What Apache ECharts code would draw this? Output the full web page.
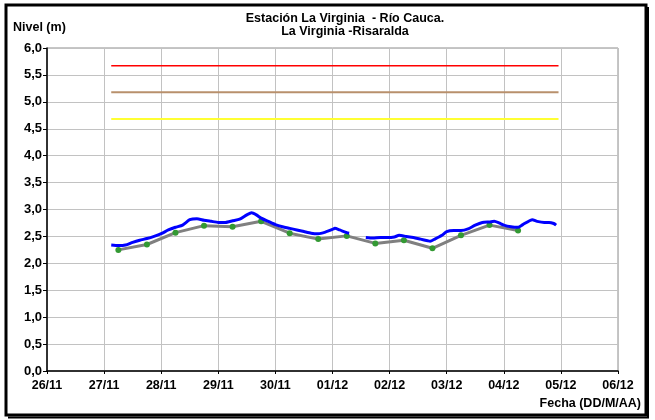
<!DOCTYPE html>
<html>
<head>
<meta charset="utf-8">
<script src="https://cdn.jsdelivr.net/npm/echarts@6/dist/echarts.min.js"></script>
<style>
  html, body { margin: 0; padding: 0; background: #fff; }
  #nivel-chart { width: 655px; height: 420px; }
</style>
</head>
<body>
<div id="nivel-chart"></div>
<script>
  // hours counted from 26/11 00:00
  const dayLabels = ['26/11', '27/11', '28/11', '29/11', '30/11', '01/12', '02/12', '03/12', '04/12', '05/12', '06/12']
  const levelTicks = ['0,0', '0,5', '1,0', '1,5', '2,0', '2,5', '3,0', '3,5', '4,0', '4,5', '5,0', '5,5', '6,0']

  // nivel medido (azul), null = sin dato
  const blueHours = [27, 30, 33, 36, 39, 42, 45, 48, 51, 54, 57, 60, 63, 66, 69, 72, 75, 78, 81, 84, 86, 88, 90, 93, 96, 99,
    102, 105, 108, 111, 114, 117, 120, 121, 123, 126, 127, 130, 134, 137, 140, 143, 146, 148, 151, 154, 157, 160, 161, 163,
    166, 168, 171, 174, 177, 180, 183, 186, 188, 190, 192, 195, 198, 200, 204, 206, 209, 211, 213, 214]
  const blueLevels = [2.34, 2.33, 2.34, 2.39, 2.43, 2.46, 2.50, 2.55, 2.62, 2.67, 2.71, 2.81, 2.83, 2.80, 2.78, 2.76, 2.76, 2.79, 2.82, 2.90, 2.94, 2.90, 2.84, 2.78, 2.72, 2.68,
    2.65, 2.62, 2.59, 2.56, 2.55, 2.58, 2.63, 2.65, 2.62, 2.57, 2.56, null, 2.48, 2.47, 2.48, 2.48, 2.49, 2.52, 2.50, 2.48, 2.45, 2.42, 2.41, 2.45,
    2.52, 2.59, 2.61, 2.61, 2.64, 2.71, 2.76, 2.77, 2.78, 2.75, 2.71, 2.68, 2.67, 2.72, 2.81, 2.78, 2.76, 2.76, 2.74, 2.71]

  // lecturas de mira cada 12 h (gris con puntos verdes)
  const readHours = [30, 42, 54, 66, 78, 90, 102, 114, 126, 138, 150, 162, 174, 186, 198]
  const readLevels = [2.25, 2.35, 2.57, 2.70, 2.68, 2.78, 2.56, 2.45, 2.51, 2.37, 2.43, 2.28, 2.52, 2.71, 2.61]

  // umbrales
  const thresholdHours = [27, 215]
  const redLevel = 5.67
  const brownLevel = 5.18
  const yellowLevel = 4.68

  const pairs = (xs, ys) => xs.map((x, i) => [x, ys[i]])
  const flat = (v) => thresholdHours.map(h => [h, v])

  const font = 'Liberation Sans, Arial, sans-serif'

  const thresholdSeries = (name, value, color, width) => ({
    name: name,
    type: 'line',
    data: flat(value),
    symbol: 'none',
    lineStyle: { color: color, width: width },
    z: 2
  })

  const option = {
    animation: false,
    backgroundColor: '#fff',
    grid: {
      left: 47,
      top: 48,
      right: 37,
      bottom: 49,
      show: true,
      borderColor: '#8c8c8c',
      borderWidth: 1
    },
    graphic: [
      {
        type: 'rect',
        shape: { x: 6, y: 5, width: 640, height: 410 },
        style: { fill: null, stroke: '#000', lineWidth: 3 },
        silent: true
      },
      {
        type: 'line',
        shape: { x1: 648, y1: 7, x2: 648, y2: 418 },
        style: { stroke: '#000', lineWidth: 2 },
        silent: true
      },
      {
        type: 'line',
        shape: { x1: 8, y1: 417.5, x2: 649, y2: 417.5 },
        style: { stroke: '#000', lineWidth: 2 },
        silent: true
      },
      {
        type: 'text',
        left: 13,
        top: 21,
        style: { text: 'Nivel (m)', font: 'bold 12.5px ' + font, fill: '#000' }
      },
      {
        type: 'text',
        right: 14,
        top: 397,
        style: { text: 'Fecha (DD/M/AA)', font: 'bold 12.5px ' + font, fill: '#000' }
      },
      {
        type: 'text',
        x: 345,
        y: 12,
        style: {
          text: 'Estación La Virginia  - Río Cauca.\nLa Virginia -Risaralda',
          font: 'bold 12.5px ' + font,
          fill: '#000',
          align: 'center',
          lineHeight: 13
        }
      }
    ],
    xAxis: {
      type: 'value',
      min: 0,
      max: 240,
      interval: 24,
      axisLine: { onZero: false, lineStyle: { color: '#000', width: 1.5 } },
      axisTick: { show: true, inside: false, length: 3, lineStyle: { color: '#000' } },
      axisLabel: {
        formatter: (v) => dayLabels[Math.round(v / 24)],
        color: '#000',
        fontWeight: 'bold',
        fontSize: 12.5,
        fontFamily: font,
        margin: 8
      },
      splitLine: { show: true, lineStyle: { color: '#c2c2c2', width: 1 } }
    },
    yAxis: {
      type: 'value',
      min: 0,
      max: 6,
      interval: 0.5,
      axisLine: { show: true, lineStyle: { color: '#000', width: 1.5 } },
      axisTick: { show: true, inside: false, length: 4, lineStyle: { color: '#000' } },
      axisLabel: {
        formatter: (v) => levelTicks[Math.round(v * 2)],
        color: '#000',
        fontWeight: 'bold',
        fontSize: 13,
        fontFamily: font,
        margin: 5
      },
      splitLine: { show: true, lineStyle: { color: '#c2c2c2', width: 1 } }
    },
    series: [
      thresholdSeries('Rojo', redLevel, '#ff0000', 1.5),
      thresholdSeries('Naranja', brownLevel, '#b8906c', 2),
      thresholdSeries('Amarillo', yellowLevel, '#ffff33', 2),
      {
        name: 'Lecturas',
        type: 'line',
        data: pairs(readHours, readLevels),
        symbol: 'circle',
        symbolSize: 6,
        itemStyle: { color: '#339933' },
        lineStyle: { color: '#808080', width: 3 },
        z: 3
      },
      {
        name: 'Nivel',
        type: 'line',
        data: pairs(blueHours, blueLevels),
        symbol: 'none',
        connectNulls: false,
        smooth: 0.2,
        lineStyle: { color: '#0000ff', width: 3 },
        z: 4
      }
    ]
  }

  const myChart = echarts.init(document.getElementById('nivel-chart'), null, { renderer: 'canvas' })
  myChart.setOption(option)
</script>
</body>
</html>
